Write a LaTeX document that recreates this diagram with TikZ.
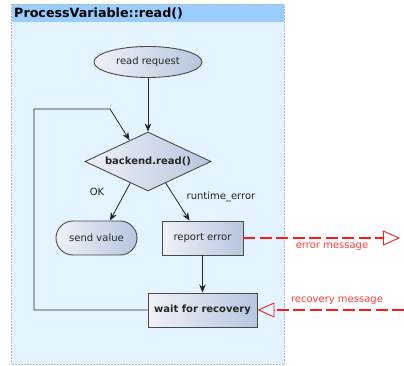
\documentclass[tikz,border=0pt]{standalone}
\usepackage{fontspec}
\setmainfont{DejaVu Sans}
\usetikzlibrary{shapes.geometric,shapes.misc,arrows.meta,calc}

\definecolor{bandblue}{HTML}{99CCFF}
\definecolor{bodyblue}{HTML}{E3F3FF}
\definecolor{frameline}{HTML}{B4BCC6}
\definecolor{shadeL}{HTML}{F0F1F7}
\definecolor{shadeR}{HTML}{B6C6DF}
\definecolor{nodeline}{HTML}{4A4A4A}
\definecolor{msgred}{HTML}{FF1A1A}

\tikzset{
  flownode/.style={draw=nodeline, line width=0.9pt, left color=shadeL, right color=shadeR,
    font=\fontsize{10}{12}\selectfont, text=black!85, inner sep=0pt},
  startnode/.style={flownode, ellipse, minimum width=108pt, minimum height=31pt},
  decision/.style={flownode, diamond, aspect=2.14, minimum width=126pt, minimum height=59pt,
    font=\fontsize{10}{12}\selectfont\bfseries},
  stadium/.style={flownode, rounded rectangle, minimum width=81pt, minimum height=34pt},
  stepbox/.style={flownode, rectangle, minimum width=81pt, minimum height=34pt},
  flow/.style={draw=black!85, line width=0.8pt, -{Stealth[length=8pt,width=6.5pt,inset=2.5pt]}},
  message/.style={draw=msgred, line width=2.6pt, dash pattern=on 12pt off 4.5pt},
  msgtip/.style={-{Triangle[open, length=17pt, width=15pt, line width=0.9pt]}},
  msglabel/.style={text=msgred!85, font=\fontsize{10}{12}\selectfont},
  edgelabel/.style={text=black!85, font=\fontsize{10}{12}\selectfont},
}

\begin{document}
\begin{tikzpicture}[x=1pt, y=-1pt]
  \useasboundingbox (0,0) rectangle (404,366);

  % container with title band
  \fill[bodyblue] (11.5,4) rectangle (284,364);
  \fill[bandblue] (11.5,4) rectangle (284,22);
  \draw[frameline, densely dotted, line width=0.5pt] (11.5,4) rectangle (284,364);
  \node[anchor=base west, inner sep=0pt, font=\fontsize{12.7}{14}\selectfont\bfseries, text=black]
    (title) at (14,18) {ProcessVariable::read()};

  % flow nodes
  \node[startnode] (req) at (148,62) {read request};
  \node[decision] (dec) at (148,161.5) {backend.read()};
  \node[stadium] (send) at (96.5,238) {send value};
  \node[stepbox] (rep) at (202.5,238) {report error};
  \node[stepbox, minimum width=109pt, font=\fontsize{10}{12}\selectfont\bfseries] (wait) at (202.5,310) {wait for recovery};

  % connectors
  \draw[flow] (req.south) -- (dec.north);
  \coordinate (loopA) at (34,310);
  \coordinate (loopB) at (34,109);
  \coordinate (loopC) at (110,109);
  \draw[flow] (wait.west) -- (loopA) -- (loopB) -- (loopC) -- ($(dec.north)!0.29!(dec.west)$);
  \draw[flow] ($(dec.south)!0.28!(dec.west)$) -- ($(send.north)+(13.5,0)$);
  \draw[flow] ($(dec.south)!0.28!(dec.east)$) -- ($(rep.north)+(-13,0)$);
  \draw[flow] (rep.south) -- (wait.north);

  \node[edgelabel] (ok) at (97,192) {OK};
  \node[edgelabel] (rterr) at (221,197) {runtime\_error};

  % messages
  \coordinate (errEnd) at (400,238);
  \coordinate (recStart) at (404,310);
  \draw[message] (rep.east) -- ($(errEnd)+(-17,0)$);
  \draw[msgred, msgtip, line width=0.9pt] ($(errEnd)+(-17,0)$) -- (errEnd);
  \draw[message] (recStart) -- ($(wait.east)+(17,0)$);
  \draw[msgred, msgtip, line width=0.9pt] ($(wait.east)+(17,0)$) -- (wait.east);
  \node[msglabel] (errlbl) at (332,247) {error message};
  \node[msglabel] (reclbl) at (337,301) {recovery message};
\end{tikzpicture}
\end{document}
